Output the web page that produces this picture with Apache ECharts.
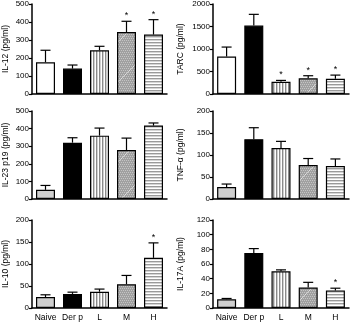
<!DOCTYPE html>
<html>
<head>
<meta charset="utf-8">
<script src="https://cdn.jsdelivr.net/npm/echarts@6/dist/echarts.min.js"></script>
<style>
html, body { margin: 0; padding: 0; background: #fff; }
#chart { width: 350px; height: 322px; }
</style>
</head>
<body>
<div id="chart"></div>
<script>
// groups
var categories = ['Naive', 'Der p', 'L', 'M', 'H'];

// panel titles (y axis names)
var panelNames = ['IL-12 (pg/ml)', 'TARC (pg/ml)', 'IL-23 p19 (pg/ml)', 'TNF-α (pg/ml)', 'IL-10 (pg/ml)', 'IL-17A (pg/ml)'];
var axisMax = [500, 2000, 500, 200, 200, 120];
var axisStep = [100, 500, 100, 50, 50, 20];

// mean values per panel
var il12 = [176, 141, 243, 344, 330];
var tarc = [835, 1520, 272, 348, 340];
var il23 = [52, 320, 360, 278, 417];
var tnfa = [27, 136, 116, 77, 75];
var il10 = [25, 32, 37, 54, 114];
var il17a = [12, 75, 50, 28, 24];

// error (upper bar length)
var il12Err = [67, 20, 22, 60, 83];
var tarcErr = [208, 250, 30, 58, 80];
var il23Err = [25, 28, 43, 68, 15];
var tnfaErr = [7, 26, 15, 15, 16];
var il10Err = [5, 4, 6, 20, 34];
var il17aErr = [1, 6, 2, 7, 3];

// significance marks
var il12Star = [0, 0, 0, 1, 1];
var tarcStar = [0, 0, 1, 1, 1];
var il23Star = [0, 0, 0, 0, 0];
var tnfaStar = [0, 0, 0, 0, 0];
var il10Star = [0, 0, 0, 0, 1];
var il17aStar = [0, 0, 0, 0, 1];

var means = [il12, tarc, il23, tnfa, il10, il17a];
var errs = [il12Err, tarcErr, il23Err, tnfaErr, il10Err, il17aErr];
var stars = [il12Star, tarcStar, il23Star, tnfaStar, il10Star, il17aStar];

//填充图案
function makePattern(kind) {
	var c = document.createElement('canvas');
	var ctx = c.getContext('2d');
	if(kind === 'v') {
		c.width = 3; c.height = 3;
		ctx.fillStyle = '#fff'; ctx.fillRect(0, 0, 3, 3);
		ctx.fillStyle = '#8a8a8a'; ctx.fillRect(0, 0, 1.4, 3);
	} else if(kind === 'h') {
		c.width = 3; c.height = 3;
		ctx.fillStyle = '#fff'; ctx.fillRect(0, 0, 3, 3);
		ctx.fillStyle = '#9a9a9a'; ctx.fillRect(0, 0, 3, 1.4);
	} else {
		c.width = 40; c.height = 40;
		ctx.fillStyle = '#a0a0a0'; ctx.fillRect(0, 0, 40, 40);
		ctx.fillStyle = '#c4c4c4';
		for(var i = 0; i < 40; i += 2) {
			for(var j = 0; j < 40; j += 2) {
				ctx.fillRect(i + (j % 4 ? 1 : 0), j, 1, 1);
			}
		}
		ctx.strokeStyle = 'rgba(255,255,255,0.7)';
		ctx.lineWidth = 0.7;
		ctx.beginPath(); ctx.moveTo(0, 40); ctx.lineTo(40, 0); ctx.stroke();
	}
	return { image: c, repeat: 'repeat' };
}
var patV = makePattern('v');
var patH = makePattern('h');
var patM = makePattern('m');

function barColors(p) {
	return [p < 2 ? '#ffffff' : '#cfcfcf', '#000000', patV, patM, patH];
}

var gridPos = [
	{ left: 31, width: 136, top: 4, height: 90 },
	{ left: 213, width: 136, top: 4, height: 90 },
	{ left: 31, width: 136, top: 111, height: 88 },
	{ left: 213, width: 136, top: 111, height: 88 },
	{ left: 31, width: 136, top: 220, height: 88 },
	{ left: 213, width: 136, top: 220, height: 88 }
];

var fontFam = 'Liberation Sans, Arial, sans-serif';
var grids = [], xAxes = [], yAxes = [], series = [];

for(var p = 0; p < 6; p++) {
	grids.push(gridPos[p]);
	xAxes.push({
		type: 'category',
		gridIndex: p,
		data: categories,
		axisLine: { lineStyle: { color: '#000', width: 1.5 } },
		axisTick: { show: false },
		axisLabel: { show: p >= 4, interval: 0, color: '#000', fontSize: 8.5, fontFamily: fontFam, margin: 5 }
	});
	yAxes.push({
		type: 'value',
		gridIndex: p,
		min: 0,
		max: axisMax[p],
		interval: axisStep[p],
		name: panelNames[p],
		nameLocation: 'middle',
		nameRotate: 90,
		nameGap: p % 2 ? 28 : 22,
		nameTextStyle: { color: '#000', fontSize: 8.5, fontFamily: fontFam },
		splitLine: { show: false },
		axisLine: { show: true, lineStyle: { color: '#000', width: 1.5 } },
		axisTick: { show: true, length: 3, lineStyle: { color: '#000', width: 1.2 } },
		axisLabel: { color: '#000', fontSize: 8, fontFamily: fontFam, margin: 3, formatter: function(v) { return String(v); } }
	});

	var cols = barColors(p);
	var barData = [];
	for(var a = 0; a < categories.length; a++) {
		barData.push({ value: means[p][a], itemStyle: { color: cols[a] } });
	}
	series.push({
		type: 'bar',
		xAxisIndex: p,
		yAxisIndex: p,
		barWidth: 19,
		data: barData,
		itemStyle: { borderColor: '#000', borderWidth: 1.2 },
		silent: true,
		animation: false,
		z: 2
	});

	var errData = [];
	for(var b = 0; b < categories.length; b++) {
		errData.push([b, means[p][b], means[p][b] + errs[p][b], stars[p][b]]);
	}
	series.push({
		type: 'custom',
		xAxisIndex: p,
		yAxisIndex: p,
		data: errData,
		animation: false,
		z: 1,
		renderItem: function(params, api) {
			var x = api.value(0);
			var lo = api.coord([x, api.value(1)]);
			var hi = api.coord([x, api.value(2)]);
			var children = [{
				type: 'line',
				shape: { x1: lo[0], y1: lo[1], x2: hi[0], y2: hi[1] },
				style: { stroke: '#000', lineWidth: 1.2 }
			}, {
				type: 'line',
				shape: { x1: hi[0] - 5, y1: hi[1], x2: hi[0] + 5, y2: hi[1] },
				style: { stroke: '#000', lineWidth: 1.2 }
			}];
			if(api.value(3)) {
				children.push({
					type: 'text',
					style: {
						text: '*', x: hi[0], y: hi[1] - 1,
						align: 'center', verticalAlign: 'bottom',
						fontSize: 9, fontFamily: fontFam, fill: '#000'
					}
				});
			}
			return { type: 'group', children: children };
		}
	});
}

var myChart = echarts.init(document.getElementById('chart'));
myChart.setOption({
	animation: false,
	grid: grids,
	xAxis: xAxes,
	yAxis: yAxes,
	series: series
});
</script>
</body>
</html>
